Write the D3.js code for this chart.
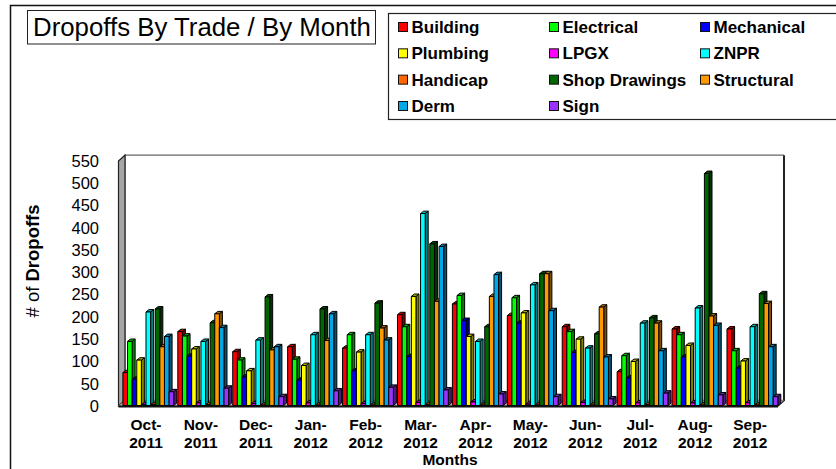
<!DOCTYPE html>
<html><head><meta charset="utf-8">
<script src="https://cdn.jsdelivr.net/npm/d3@7/dist/d3.min.js"></script>
<style>html,body{margin:0;padding:0;background:#fff}svg{display:block;font-family:"Liberation Sans",Arial,sans-serif}</style>
</head><body><div id="c"></div>
<script>
const months=["Oct-2011","Nov-2011","Dec-2011","Jan-2012","Feb-2012","Mar-2012","Apr-2012","May-2012","Jun-2012","Jul-2012","Aug-2012","Sep-2012"];
const seriesNames=["Building","Electrical","Mechanical","Plumbing","LPGX","ZNPR","Handicap","Shop Drawings","Structural","Derm","Sign"];
const seriesColors=["#ff0000","#00ff00","#0000ff","#ffff00","#ff00ff","#00ffff","#ff6600","#006600","#ff9900","#00a8e8","#9933ff"];
const Building=[75,167,122,133,130,205,229,203,178,77,173,173];
const Electrical=[145,157,103,105,160,178,248,243,167,113,160,124];
const Mechanical=[60,112,65,58,79,111,192,186,120,63,110,85];
const Plumbing=[103,128,79,91,121,246,156,209,150,100,136,101];
const LPGX=[3,7,5,7,5,8,9,4,8,7,7,7];
const ZNPR=[211,145,148,160,160,432,145,272,130,186,220,178];
const Handicap=[3,3,2,2,2,3,2,2,2,3,2,2];
const ShopDrawings=[218,187,245,218,231,364,178,297,162,198,522,252];
const Structural=[133,207,126,147,175,235,246,297,222,186,202,230];
const Derm=[156,176,133,207,148,358,295,214,110,124,181,133];
const Sign=[32,40,21,34,42,36,27,21,16,29,25,21];
const seriesValues=[Building,Electrical,Mechanical,Plumbing,LPGX,ZNPR,Handicap,ShopDrawings,Structural,Derm,Sign];
const yTicks=d3.range(0,551,50);

const W=836,H=469;
const svg=d3.select("#c").append("svg").attr("width",W).attr("height",H);
// outer chart frame
svg.append("path").attr("d",`M10.5,${H} V5.5 H${W}`).attr("fill","none").attr("stroke","#111").attr("stroke-width",1.5);

// title
svg.append("rect").attr("x",27.5).attr("y",10.5).attr("width",348).attr("height",33.5).attr("fill","#fff").attr("stroke","#222").attr("stroke-width",1);
svg.append("text").attr("x",33).attr("y",36).attr("font-size",25.8).attr("fill","#000").text("Dropoffs By Trade / By Month");

// legend
svg.append("rect").attr("x",388.5).attr("y",13.5).attr("width",W).attr("height",106).attr("fill","#fff").attr("stroke","#222").attr("stroke-width",1.2);
const legX=d3.scalePoint().domain([0,1,2]).range([398,700]);
const legY=d3.scalePoint().domain([0,1,2,3]).range([27,106]);
const leg=svg.selectAll("g.leg").data(seriesNames).join("g").attr("class","leg")
  .attr("transform",(d,i)=>`translate(${legX(i%3)},${legY(Math.floor(i/3))})`);
leg.append("rect").attr("x",0.5).attr("y",-4.5).attr("width",9).attr("height",9).attr("fill",(d,i)=>seriesColors[i]).attr("stroke","#111").attr("stroke-width",1);
leg.append("text").attr("x",13.5).attr("y",6).attr("font-size",17).attr("font-weight","bold").attr("fill","#000").text(d=>d);

// plot geometry
const x0=118.5,x1=777.5,yBase=406,yTop=161,dx=6.5,dy=-5.8;
const x=d3.scaleBand().domain(months).range([x0,x1]);
const inner=d3.scaleBand().domain(seriesNames).range([4.4,55.2]);
const y=d3.scaleLinear().domain([0,550]).range([yBase,yTop]);

// walls
svg.append("rect").attr("x",x0+dx).attr("y",yTop+dy).attr("width",x1-x0).attr("height",yBase-yTop).attr("fill","#fff");
svg.append("path").attr("d",`M${x0+dx},${yBase+dy} V${yTop+dy} H${x1+dx}`).attr("fill","none").attr("stroke","#666").attr("stroke-width",1.2);
svg.append("path").attr("d",`M${x1+dx},${yTop+dy} V${yBase+dy} L${x1},${yBase}`).attr("fill","none").attr("stroke","#222").attr("stroke-width",2);
svg.append("path").attr("d",`M${x0},${yTop} L${x0+dx},${yTop+dy} V${yBase+dy} L${x0},${yBase} Z`).attr("fill","#a6a6a6").attr("stroke","#222").attr("stroke-width",1.2);
svg.append("path").attr("d",`M${x0},${yBase} L${x0+dx},${yBase+dy} H${x1+dx} L${x1},${yBase} Z`).attr("fill","#c4c4c4").attr("stroke","#555").attr("stroke-width",0.6);

// 3D bars
const bw=inner.bandwidth(),bdx=3,bdy=-2.4;
const shade=c=>d3.color(c).darker(1.9).formatHex();
const lift=c=>d3.color(c).darker(0.9).formatHex();
months.forEach((m,mi)=>{
  seriesNames.forEach((s,si)=>{
    const v=seriesValues[si][mi],c=seriesColors[si];
    const l=x(m)+inner(s),r=l+bw,t=y(v),b=yBase-0.5;
    const g=svg.append("g").attr("stroke","#000").attr("stroke-width",1).attr("stroke-linejoin","round");
    g.append("path").attr("d",`M${r},${t} L${r+bdx},${t+bdy} V${b+bdy} L${r},${b} Z`).attr("fill",shade(c));
    g.append("path").attr("d",`M${l},${t} L${l+bdx},${t+bdy} H${r+bdx} L${r},${t} Z`).attr("fill",lift(c));
    g.append("rect").attr("x",l).attr("y",t).attr("width",bw).attr("height",Math.max(0,b-t)).attr("fill",c);
  });
});
// front axis line
svg.append("path").attr("d",`M${x0},${yBase+0.5} H${x1+0.5}`).attr("stroke","#111").attr("stroke-width",2).attr("fill","none");

// y axis
const gy=svg.append("g").attr("transform","translate(104,0)").call(d3.axisLeft(y).tickValues(yTicks).tickSize(0).tickPadding(5));
gy.select(".domain").remove();
gy.selectAll("text").attr("font-size",16.5).attr("font-family","'Liberation Sans',Arial,sans-serif").attr("fill","#000");

// x axis
const gx=svg.append("g").attr("transform",`translate(0,${yBase})`).call(d3.axisBottom(x).tickSize(0));
gx.select(".domain").remove();
gx.selectAll("text").attr("font-size",15.5).attr("font-weight","bold").attr("font-family","'Liberation Sans',Arial,sans-serif").attr("fill","#000")
  .each(function(d){
    const p=d.split("-"),t=d3.select(this).text(null).attr("y",0).attr("dy",null);
    t.append("tspan").attr("x",0).attr("y",24).text(p[0]+"-");
    t.append("tspan").attr("x",0).attr("y",42).text(p[1]);
  });

svg.append("text").attr("x",450).attr("y",465).attr("text-anchor","middle").attr("font-size",15.5).attr("font-weight","bold").text("Months");
const yl=svg.append("text").attr("transform","translate(39,261) rotate(-90)").attr("text-anchor","middle").attr("font-size",18.5);
yl.append("tspan").text("# of ");
yl.append("tspan").attr("font-weight","bold").text("Dropoffs");
</script></body></html>
